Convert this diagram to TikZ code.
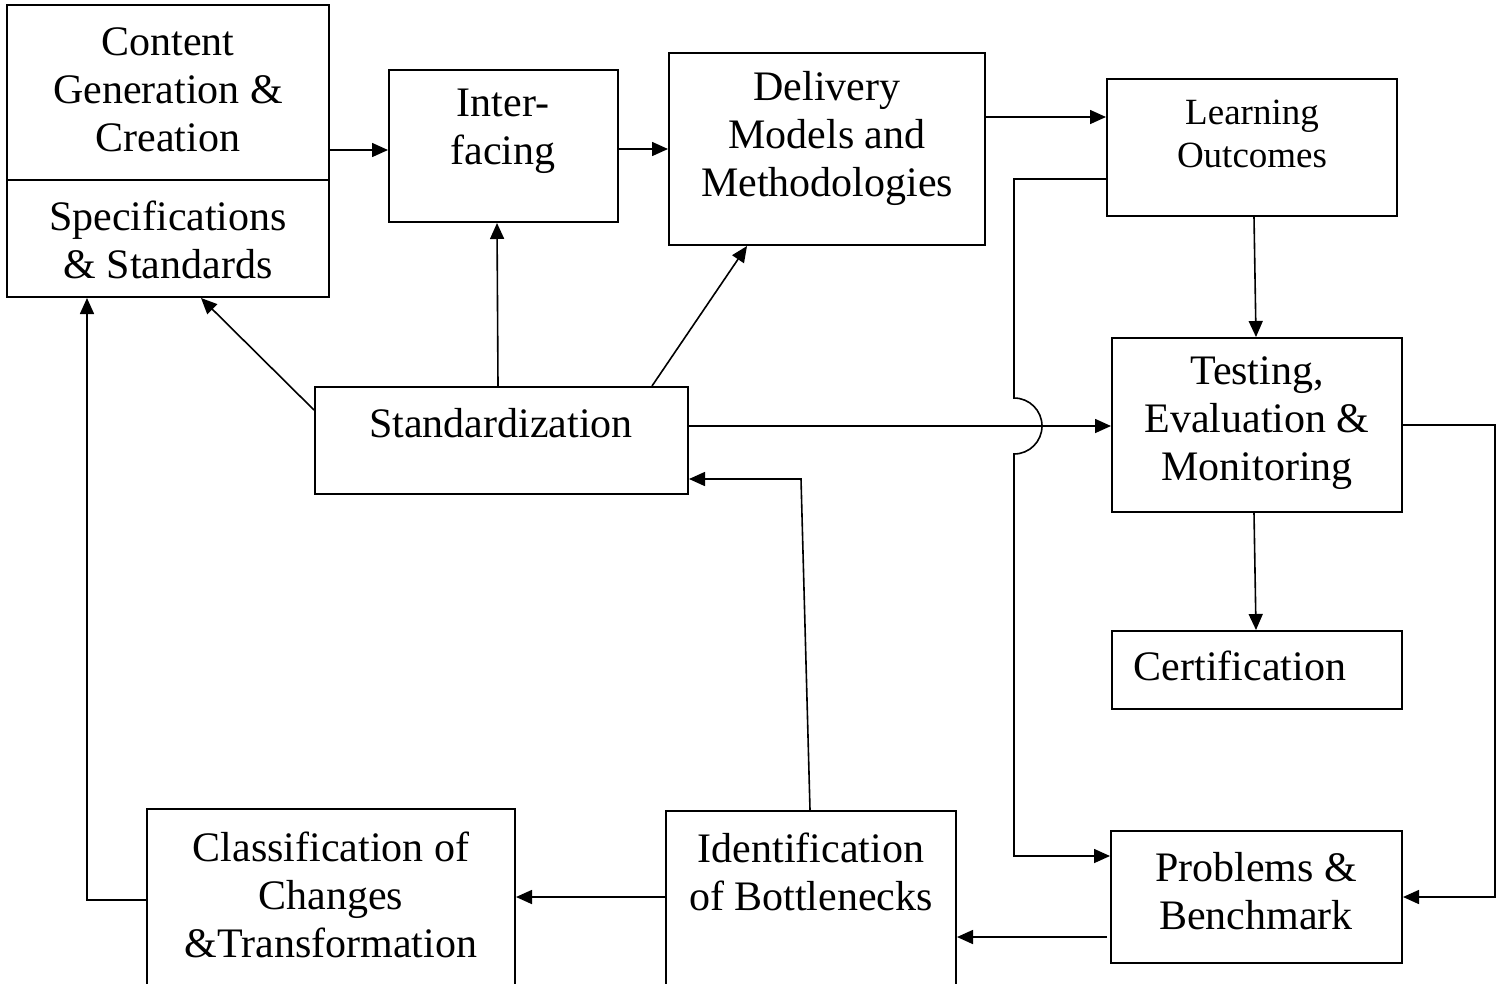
\documentclass[tikz,border=0pt]{standalone}
\usepackage{fontspec}
\setmainfont{Liberation Serif}
\usetikzlibrary{arrows.meta,fit}
\tikzset{
  box/.style={draw, line width=2pt, inner sep=0pt},
  txt/.style={align=center, inner sep=0pt, font=\fontsize{42}{48}\selectfont},
  smalltxt/.style={align=center, inner sep=0pt, font=\fontsize{37}{43}\selectfont},
  arr/.style={line width=1.6pt, -{Triangle[length=16pt,width=14pt]}}
}
\begin{document}
\begin{tikzpicture}[x=1pt,y=-1pt]
\clip (0,0) rectangle (1503,983);
\fill[white] (0,0) rectangle (1503,983);
% boxes
\node[box, fit={(7,5) (329,297)}] (cg) {};
\node[box, fit={(389,70) (618,222)}] (inter) {};
\node[box, fit={(669,53) (985,245)}] (deliv) {};
\node[box, fit={(1107,79) (1397,216)}] (lo) {};
\node[box, fit={(315,387) (688,494)}] (std) {};
\node[box, fit={(1112,338) (1402,512)}] (test) {};
\node[box, fit={(1112,631) (1402,709)}] (cert) {};
\node[box, fit={(1111,831) (1402,963)}] (prob) {};
\node[box, fit={(666,811) (956,1010)}] (ident) {};
\node[box, fit={(147,809) (515,1010)}] (class) {};
\draw[line width=2pt] (cg.west |- 0,180) -- (cg.east |- 0,180);
% texts
\node[txt] (tcg) at (168,90) {Content\\Generation \&\\Creation};
\node[txt] (tspec) at (168,240) {Specifications\\\& Standards};
\node[txt] (tinter) at (503,131) {Inter-\\facing};
\node[txt] (tdeliv) at (827,138) {Delivery\\Models and\\Methodologies};
\node[smalltxt] (tlo) at (1252,134) {Learning\\Outcomes};
\node[txt] (tstd) at (501,423) {Standardization};
\node[txt] (ttest) at (1257,423) {Testing,\\Evaluation \&\\Monitoring};
\node[txt] (tcert) at (1240,666) {Certification};
\node[txt] (tprob) at (1256,891) {Problems \&\\Benchmark};
\node[txt] (tident) at (811,872) {Identification\\of Bottlenecks};
\node[txt] (tclass) at (331,895) {Classification of\\Changes\\\&Transformation};
% connectors
\draw[arr] (cg.east |- 0,150) -- (inter.west |- 0,150);
\draw[arr] (inter.east |- 0,149) -- (deliv.west |- 0,149);
\draw[arr] (deliv.east |- 0,117) -- (lo.west |- 0,117);
\draw[arr] (lo.south -| 1254,0) -- (test.north -| 1256,0);
\draw[arr] (test.south -| 1254,0) -- (cert.north -| 1256,0);
\draw[arr] (std.east |- 0,426) -- (test.west |- 0,426);
\draw[arr] (lo.west |- 0,179) -- (1014,179) -- (1014,398)
  arc[start angle=-90, end angle=90, radius=28] -- (1014,856) -- (prob.west |- 0,856);
\draw[arr] (test.east |- 0,425) -- (1495,425) -- (1495,897) -- (prob.east |- 0,897);
\draw[arr] ([xshift=-3pt]prob.west |- 0,937) -- (ident.east |- 0,937);
\draw[arr] (ident.west |- 0,897) -- (class.east |- 0,897);
\draw[arr] (class.west |- 0,900) -- (87,900) -- (cg.south -| 87,0);
\draw[arr] (ident.north -| 810,0) -- (801,479) -- (std.east |- 0,479);
\draw[arr] (std.west |- 0,410) -- (cg.south -| 201,0);
\draw[arr] (std.north -| 498,0) -- (inter.south -| 497,0);
\draw[arr] (std.north -| 652,0) -- (deliv.south -| 747,0);
\end{tikzpicture}
\end{document}
